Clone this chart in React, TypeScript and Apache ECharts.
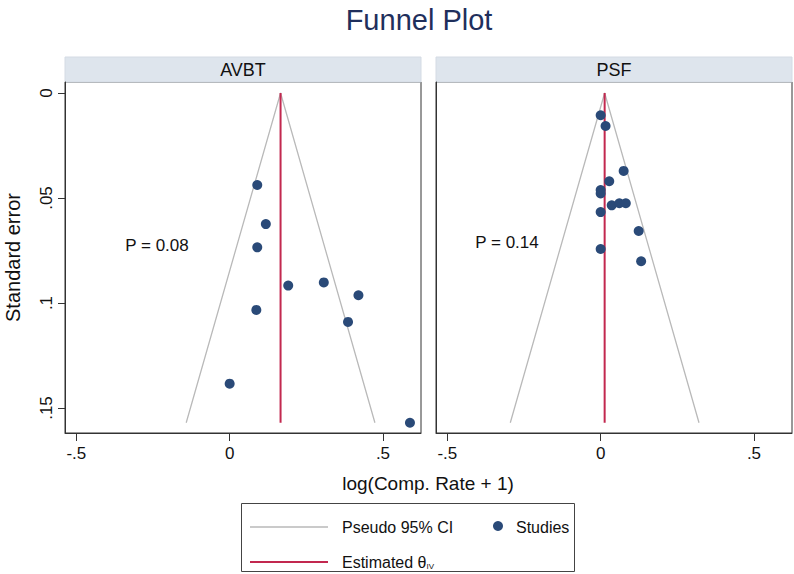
import React, { useEffect, useRef } from "react";
import * as echarts from "echarts";

const panels = ["AVBT", "PSF"];
const avbtEffect = [0.09, 0.118, 0.09, 0.191, 0.307, 0.42, 0.087, 0.386, 0.0, 0.588];
const avbtSE = [0.0438, 0.0624, 0.0735, 0.0917, 0.0902, 0.0963, 0.1033, 0.109, 0.1384, 0.157];
const psfEffect = [0.0, 0.016, 0.075, 0.028, 0.0, 0.0, 0.0, 0.036, 0.061, 0.082, 0.124, 0.0, 0.132];
const psfSE = [0.0106, 0.0157, 0.0371, 0.042, 0.0462, 0.0478, 0.0567, 0.0535, 0.0525, 0.0525, 0.0657, 0.0743, 0.0801];
const thetaIV = [0.166, 0.013];
const seMax = [0.157, 0.157];
const pLabels = ["P = 0.08", "P = 0.14"];
const xTicks = [-0.5, 0, 0.5];
const xTickLabels = ["-.5", "0", ".5"];
const yTicks = [0, 0.05, 0.1, 0.15];
const yTickLabels = ["0", ".05", ".1", ".15"];

const FONT = "'Liberation Sans', Arial, Helvetica, sans-serif";
const NAVY = "#2a4a78";
const RED = "#c2284f";
const GREY = "#b9b9b9";

export default function App() {
  const ref = useRef<HTMLDivElement>(null);
  useEffect(() => {
    document.body.style.margin = "0";
    const chart = echarts.init(ref.current!, undefined, { renderer: "svg" });
    const gridLefts = [65, 436];
    const gridW = 356;
    const gridTop = 82;
    const gridH = 351;
    const studies = [
      avbtEffect.map((x, i) => [x, avbtSE[i]]),
      psfEffect.map((x, i) => [x, psfSE[i]]),
    ];
    const fmt = (labels: string[], ticks: number[]) => (v: number) => {
      const idx = ticks.findIndex((t) => Math.abs(t - v) < 1e-9);
      return idx >= 0 ? labels[idx] : "";
    };
    const series: any[] = [];
    panels.forEach((_, p) => {
      const t = thetaIV[p];
      const s = seMax[p];
      series.push({
        type: "line",
        name: "Pseudo 95% CI",
        xAxisIndex: p,
        yAxisIndex: p,
        data: [
          [t - 1.96 * s, s],
          [t, 0],
          [t + 1.96 * s, s],
        ],
        symbol: "none",
        lineStyle: { color: GREY, width: 1.3 },
        z: 2,
      });
      series.push({
        type: "line",
        name: "Estimated θIV",
        xAxisIndex: p,
        yAxisIndex: p,
        data: [
          [t, 0],
          [t, s],
        ],
        symbol: "none",
        lineStyle: { color: RED, width: 2 },
        z: 3,
      });
      series.push({
        type: "scatter",
        name: "Studies",
        xAxisIndex: p,
        yAxisIndex: p,
        data: studies[p],
        symbolSize: 10,
        itemStyle: { color: NAVY, opacity: 1 },
        z: 4,
      });
    });

    const graphic: any[] = [];
    panels.forEach((name, p) => {
      graphic.push({
        type: "rect",
        shape: { x: gridLefts[p], y: 57, width: gridW, height: 25 },
        style: { fill: "#dee5ed", stroke: "#d4dbe4", lineWidth: 1 },
        z: 0,
      });
      graphic.push({
        type: "text",
        x: gridLefts[p] + gridW / 2,
        y: 70,
        style: {
          text: name,
          fontSize: 18,
          fontFamily: FONT,
          fill: "#111",
          align: "center",
          verticalAlign: "middle",
        },
      });
    });
    graphic.push({
      type: "text",
      x: 157,
      y: 245,
      style: { text: pLabels[0], fontSize: 17, fontFamily: FONT, fill: "#111", align: "center", verticalAlign: "middle" },
      z: 10,
    });
    graphic.push({
      type: "text",
      x: 507,
      y: 242,
      style: { text: pLabels[1], fontSize: 17, fontFamily: FONT, fill: "#111", align: "center", verticalAlign: "middle" },
      z: 10,
    });
    graphic.push({
      type: "text",
      x: 428,
      y: 483,
      style: {
        text: "log(Comp. Rate + 1)",
        fontSize: 19,
        fontFamily: FONT,
        fill: "#111",
        align: "center",
        verticalAlign: "middle",
      },
    });
    // legend box
    graphic.push({
      type: "rect",
      shape: { x: 241.5, y: 503.5, width: 333, height: 68 },
      style: { fill: "#fff", stroke: "#444", lineWidth: 1 },
    });
    graphic.push({
      type: "line",
      shape: { x1: 250, y1: 527, x2: 328, y2: 527 },
      style: { stroke: GREY, lineWidth: 1.3 },
    });
    graphic.push({
      type: "text",
      x: 342,
      y: 527,
      style: { text: "Pseudo 95% CI", fontSize: 16, fontFamily: FONT, fill: "#111", verticalAlign: "middle" },
    });
    graphic.push({
      type: "circle",
      shape: { cx: 498, cy: 526, r: 5 },
      style: { fill: NAVY },
    });
    graphic.push({
      type: "text",
      x: 516,
      y: 527,
      style: { text: "Studies", fontSize: 16, fontFamily: FONT, fill: "#111", verticalAlign: "middle" },
    });
    graphic.push({
      type: "line",
      shape: { x1: 250, y1: 562, x2: 328, y2: 562 },
      style: { stroke: RED, lineWidth: 2 },
    });
    graphic.push({
      type: "text",
      x: 342,
      y: 562,
      style: {
        text: "Estimated θ{sub|IV}",
        fontSize: 16,
        fontFamily: FONT,
        fill: "#111",
        verticalAlign: "middle",
        rich: {
          sub: { fontSize: 8, fontFamily: FONT, fill: "#111", verticalAlign: "bottom", padding: [9, 0, 0, 0] },
        },
      },
    });

    const option: any = {
      animation: false,
      backgroundColor: "#fff",
      title: {
        text: "Funnel Plot",
        left: 414,
        textAlign: "center",
        top: 0,
        textStyle: { fontSize: 29, fontWeight: "normal", color: "#1f2f5c", fontFamily: FONT },
      },
      grid: panels.map((_, p) => ({
        left: gridLefts[p],
        top: gridTop,
        width: gridW,
        height: gridH,
        show: true,
        borderColor: "#333",
        borderWidth: 1,
        backgroundColor: "#fff",
      })),
      xAxis: panels.map((_, p) => ({
        type: "value",
        gridIndex: p,
        min: -0.537,
        max: 0.624,
        splitLine: { show: false },
        axisLine: { show: true, onZero: false, lineStyle: { color: "#333" } },
        axisTick: {
          show: true,
          length: 8,
          customValues: xTicks,
          lineStyle: { color: "#333" },
        },
        axisLabel: {
          customValues: xTicks,
          formatter: fmt(xTickLabels, xTicks),
          fontSize: 17,
          fontFamily: FONT,
          color: "#111",
          margin: 12,
        },
      })),
      yAxis: panels.map((_, p) => ({
        type: "value",
        gridIndex: p,
        inverse: true,
        min: -0.00524,
        max: 0.1619,
        splitLine: { show: false },
        axisLine: { show: true, onZero: false, lineStyle: { color: "#333" } },
        axisTick: {
          show: p === 0,
          length: 7,
          customValues: yTicks,
          lineStyle: { color: "#333" },
        },
        axisLabel: {
          show: p === 0,
          customValues: yTicks,
          formatter: fmt(yTickLabels, yTicks),
          rotate: 90,
          fontSize: 17,
          fontFamily: FONT,
          color: "#111",
          margin: 10,
        },
        name: p === 0 ? "Standard error" : "",
        nameLocation: "middle",
        nameRotate: 90,
        nameGap: 42,
        nameTextStyle: { fontSize: 20, fontFamily: FONT, color: "#111" },
      })),
      series,
      graphic,
    };
    chart.setOption(option);
    return () => chart.dispose();
  }, []);
  return <div ref={ref} style={{ width: 794, height: 574 }} />;
}
